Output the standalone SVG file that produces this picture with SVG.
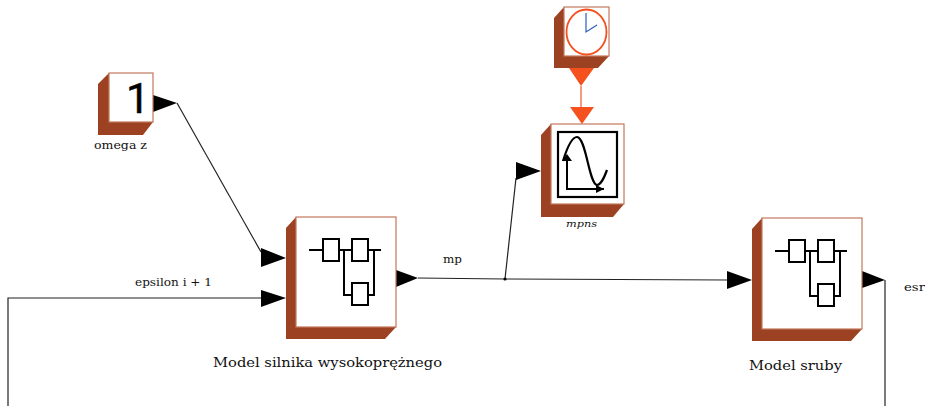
<svg xmlns="http://www.w3.org/2000/svg" width="925" height="406" viewBox="0 0 925 406">
<style>
.bg{fill:#fff}
.shade{fill:#9c4222}
.front{fill:#fff;stroke:#c4775c;stroke-width:1.2}
.wire{fill:none;stroke:#222;stroke-width:1.2}
.port{fill:#000}
.oport{fill:#f4511f}
.icon{fill:none;stroke:#000;stroke-width:2}
.iconbox{fill:#fff;stroke:#000;stroke-width:2}
text{font-family:"DejaVu Serif","Liberation Serif",serif;fill:#111;font-size:11px}
text.num{font-family:Roboto,"Noto Sans",sans-serif;font-size:42px;fill:#000;stroke:#000;stroke-width:.5}
</style>
<defs>
<g id="fsm">
<path class="icon" d="M309 250H323M339 250H352M368 250H381M344 250V295H352M368 295H374V250"/>
<rect class="iconbox" x="323" y="239" width="16" height="22"/>
<rect class="iconbox" x="352" y="239" width="16" height="22"/>
<rect class="iconbox" x="352" y="283" width="16" height="22"/>
</g>
</defs>
<rect class="bg" width="925" height="406"/>
<g id="connectors">
<path class="wire" d="M177 103L261 252"/>
<path class="wire" d="M8 406V298H261"/>
<path class="wire" d="M418 278L505 279L727 280"/>
<path class="wire" d="M505 279L516 178"/>
<path class="wire" d="M885 280V406"/>
<circle cx="505" cy="279" r="1.6" fill="#000"/>
<path fill="none" stroke="#f4704a" stroke-width="1.4" d="M581 86V107"/>
<polygon class="port" points="153,95 153,112 177,103"/>
<polygon class="port" points="261,248 261,267 286,258"/>
<polygon class="port" points="261,290 261,307 286,298"/>
<polygon class="port" points="396,270 396,287 418,278"/>
<polygon class="port" points="516,162 516,180 541,171"/>
<polygon class="port" points="727,271 727,289 752,280"/>
<polygon class="port" points="862,271 862,288 885,280"/>
<polygon class="oport" points="569,68 594,68 581,86"/>
<polygon class="oport" points="570,107 594,107 582,124"/>
</g>
<g id="omega-z">
<polygon class="shade" points="98,84 109,73 153,73 153,122 143,135 98,135"/>
<rect class="front" x="109" y="73" width="44" height="49"/>
<text class="num" x="126" y="113">1</text>
<text x="94" y="149" textLength="53" lengthAdjust="spacingAndGlyphs">omega z</text>
</g>
<g id="clock">
<polygon class="shade" points="554,18 564,7 609,7 609,56 598,68 554,68"/>
<rect class="front" x="564" y="7" width="45" height="49"/>
<ellipse cx="586.500" cy="32" rx="20" ry="22.500" fill="none" stroke="#f4511f" stroke-width="1.800"/>
<path fill="none" stroke="#2a5fc0" stroke-width="1.200" d="M586 13V32L597 25"/>
</g>
<g id="scope">
<polygon class="shade" points="541,135 551,124 624,124 624,204 613,217 541,217"/>
<rect class="front" x="551" y="124" width="73" height="80"/>
<rect x="558" y="132" width="59" height="65" fill="#fff" stroke="#000" stroke-width="2.200"/>
<path class="icon" d="M567 158V189H604"/>
<polygon class="port" points="567,154 562,161 572,161"/>
<polygon class="port" points="604,189 596,185 596,193"/>
<path fill="none" stroke="#000" stroke-width="2.200" d="M563 161C567 148 572 137 577 137C586 137 589 184 597 185C601 185 604 178 607 170"/>
<text x="566" y="227" textLength="31" lengthAdjust="spacingAndGlyphs" font-style="italic" style="font-size:9px">mpns</text>
</g>
<g id="model-silnika">
<polygon class="shade" points="286,228 296,217 396,217 396,327 385,339 286,339"/>
<rect class="front" x="296" y="217" width="100" height="110"/>
<use href="#fsm"/>
<text x="213" y="367" textLength="229" lengthAdjust="spacingAndGlyphs" style="font-size:13px">Model silnika wysokoprężnego</text>
</g>
<g id="model-sruby">
<polygon class="shade" points="752,229 762,218 862,218 862,329 851,341 752,341"/>
<rect class="front" x="762" y="218" width="100" height="111"/>
<use href="#fsm" x="466" y="1"/>
<text x="749" y="370" textLength="93" lengthAdjust="spacingAndGlyphs" style="font-size:13px">Model sruby</text>
</g>
<g id="labels">
<text x="443" y="263" textLength="19" lengthAdjust="spacingAndGlyphs">mp</text>
<text x="904" y="291" textLength="21" lengthAdjust="spacingAndGlyphs">esr</text>
<text x="135" y="286" textLength="77" lengthAdjust="spacingAndGlyphs">epsilon i + 1</text>
</g>
</svg>
